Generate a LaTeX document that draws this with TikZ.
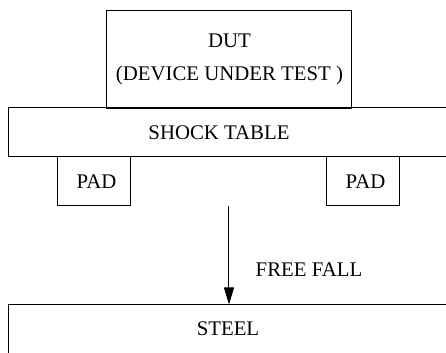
\documentclass[tikz,border=0pt]{standalone}
\usepackage{fontspec}
\setmainfont{Liberation Serif}
\usetikzlibrary{arrows.meta, positioning}

\tikzset{
  block/.style={draw, line width=0.5pt, inner sep=0pt, font=\fontsize{10.4}{16.5}\selectfont},
  padbox/.style={block, minimum width=36.5pt, minimum height=24.5pt},
  wide/.style={block, minimum width=225.5pt}
}

\begin{document}
\begin{tikzpicture}[x=0.5pt, y=-0.5pt, font=\fontsize{10.4}{16.5}\selectfont]
    \useasboundingbox (0,0) rectangle (446,353);
    \clip (0,0) rectangle (446,353);
    % Define blocks
    \node[block, minimum width=122.5pt, minimum height=49pt, align=center] (dut) at (229.5,59.5) {DUT\\(DEVICE UNDER TEST )};
    \node[wide, minimum height=24.5pt, label={[xshift=-7.75pt]center:SHOCK TABLE}] (table) at (234.5,132.5) {};
    \node[padbox] (padl) at (94.5,181.5) {\hspace*{2pt}PAD};
    \node[padbox] (padr) at (363.5,181.5) {\hspace*{2pt}PAD};
    \node[wide, minimum height=27.5pt, label={[xshift=-3.25pt, yshift=1.75pt]center:STEEL}] (steel) at (234.5,332.5) {};
    
    % Define fall
    \coordinate (fall) at (229,206);
    \draw[line width=0.5pt, -{Triangle[length=8.5pt, width=5pt]}] (fall) -- (fall |- steel.north);
    \node (ff) at (309,270) {FREE FALL};
\end{tikzpicture}
\end{document}
